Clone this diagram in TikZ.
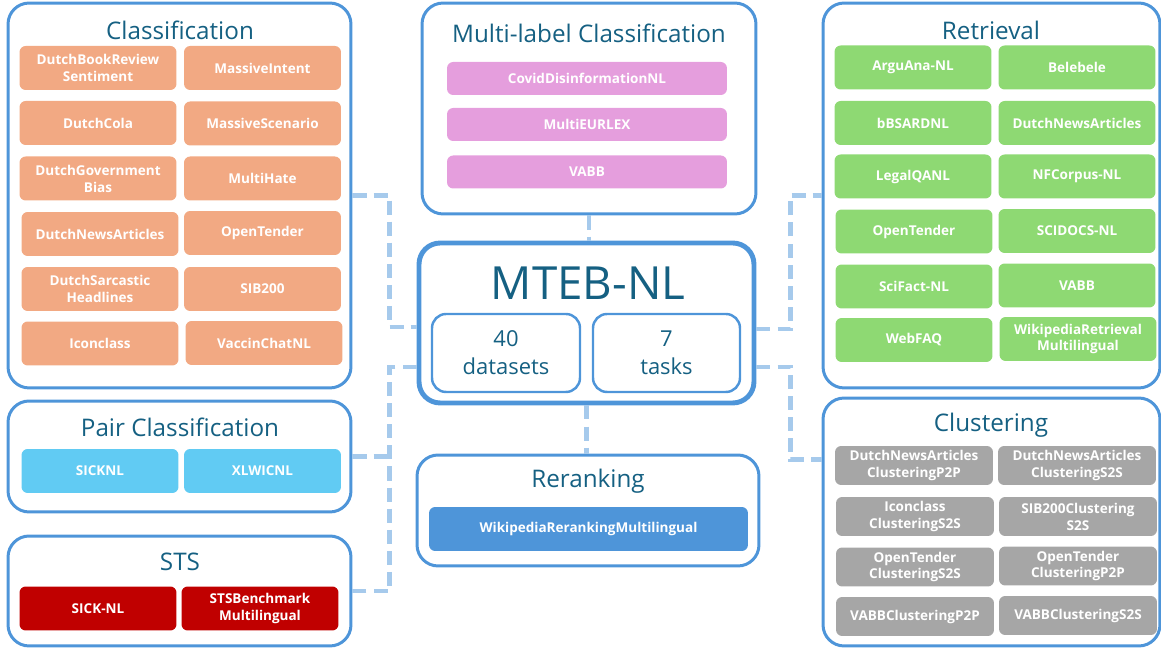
\documentclass[tikz,border=0pt]{standalone}
\usepackage{fontspec}
\setmainfont{Open Sans}
\usetikzlibrary{calc}

\definecolor{grpblue}{HTML}{4E95D9}
\definecolor{linkblue}{HTML}{A6CAEC}
\definecolor{titleblue}{HTML}{156082}
\definecolor{clsorange}{HTML}{F2A983}
\definecolor{retgreen}{HTML}{8ED973}
\definecolor{mlpink}{HTML}{E59EDD}
\definecolor{paircyan}{HTML}{61CBF3}
\definecolor{stsred}{HTML}{C00000}
\definecolor{clugray}{HTML}{A6A6A6}

\begin{document}
\begin{tikzpicture}[x=0.02cm, y=-0.02cm,
    group/.style={draw=grpblue, line width=1.7pt, rounded corners=12pt, inner sep=0pt},
    title/.style={text=titleblue, font=\fontsize{13.8}{16}\selectfont},
    dset/.style={rounded corners=3.5pt, text=white, font=\bfseries\fontsize{7.7}{9.6}\selectfont,
        align=center, inner sep=0pt, minimum width=3.14cm, minimum height=0.88cm},
    link/.style={draw=linkblue, line width=2.8pt, dash pattern=on 8pt off 4pt}]
    \useasboundingbox (0,0) rectangle (1161,648);

    % draw the groups
    \node[group, minimum width=6.86cm, minimum height=7.70cm] (cls) at (179.5,195.5) {};
    \node[group, minimum width=6.86cm, minimum height=2.22cm] (pair) at (179.5,456.5) {};
    \node[group, minimum width=6.86cm, minimum height=2.20cm] (sts) at (179.5,591) {};
    \node[group, minimum width=6.68cm, minimum height=4.22cm] (multi) at (589,108.5) {};
    \node[group, line width=2.8pt, minimum width=6.70cm, minimum height=3.20cm] (mteb) at (586.5,323) {};
    \node[group, minimum width=6.84cm, minimum height=2.22cm] (rerank) at (588,510.5) {};
    \node[group, minimum width=6.74cm, minimum height=7.70cm] (retr) at (991.5,195.5) {};
    \node[group, minimum width=6.74cm, minimum height=4.96cm] (clus) at (991.5,522) {};

    % the titles
    \node[title] (clstitle) at (180,30) {Classification};
    \node[title] (pairtitle) at (180,427) {Pair Classification};
    \node[title] (ststitle) at (180,562) {STS};
    \node[title] (multititle) at (589,33) {Multi-label Classification};
    \node[title] (reranktitle) at (588,481) {Reranking};
    \node[title] (retrtitle) at (991,30) {Retrieval};
    \node[title] (clustitle) at (991,425) {Clustering};

    % the centre box with its numbers
    \node[title, font=\fontsize{26}{30}\selectfont] (mtebtitle) at (588,283) {MTEB-NL};
    \node[group, line width=1.4pt, rounded corners=8pt, minimum width=2.96cm, minimum height=1.56cm,
        align=center, text=titleblue, font=\fontsize{12.5}{16}\selectfont] (nsets) at (506,353) {40\\datasets};
    \node[group, line width=1.4pt, rounded corners=8pt, minimum width=2.94cm, minimum height=1.56cm,
        align=center, text=titleblue, font=\fontsize{12.5}{16}\selectfont] (ntasks) at (666.5,353) {7\\tasks};

    % the datasets in the groups
    \node[dset, fill=clsorange] (c1) at (98,68) {DutchBookReview\\Sentiment};
    \node[dset, fill=clsorange] (c2) at (262.5,68) {MassiveIntent};
    \node[dset, fill=clsorange] (c3) at (98,123) {DutchCola};
    \node[dset, fill=clsorange] (c4) at (262.5,123.5) {MassiveScenario};
    \node[dset, fill=clsorange] (c5) at (98,178.5) {DutchGovernment\\Bias};
    \node[dset, fill=clsorange] (c6) at (262.5,178.5) {MultiHate};
    \node[dset, fill=clsorange] (c7) at (100,234) {DutchNewsArticles};
    \node[dset, fill=clsorange] (c8) at (262.5,233) {OpenTender};
    \node[dset, fill=clsorange] (c9) at (100,289) {DutchSarcastic\\Headlines};
    \node[dset, fill=clsorange] (c10) at (262.5,289) {SIB200};
    \node[dset, fill=clsorange] (c11) at (100,343.5) {Iconclass};
    \node[dset, fill=clsorange] (c12) at (264,343) {VaccinChatNL};

    \node[dset, fill=paircyan] (p1) at (100,471) {SICKNL};
    \node[dset, fill=paircyan] (p2) at (262.5,471) {XLWICNL};

    \node[dset, fill=stsred] (s1) at (98,608.5) {SICK-NL};
    \node[dset, fill=stsred] (s2) at (260,608.5) {STSBenchmark\\Multilingual};

    \node[dset, fill=mlpink, minimum width=5.6cm, minimum height=0.66cm] (m1) at (587,78.5) {CovidDisinformationNL};
    \node[dset, fill=mlpink, minimum width=5.6cm, minimum height=0.66cm] (m2) at (587,124.5) {MultiEURLEX};
    \node[dset, fill=mlpink, minimum width=5.6cm, minimum height=0.66cm] (m3) at (587,172) {VABB};

    \node[dset, fill=grpblue, minimum width=6.38cm] (rr1) at (588.5,529) {WikipediaRerankingMultilingual};

    \node[dset, fill=retgreen] (r1) at (913,67.5) {ArguAna-NL};
    \node[dset, fill=retgreen] (r2) at (1077,67.5) {Belebele};
    \node[dset, fill=retgreen] (r3) at (913,123) {bBSARDNL};
    \node[dset, fill=retgreen] (r4) at (1077,123) {DutchNewsArticles};
    \node[dset, fill=retgreen] (r5) at (913,176.5) {LegalQANL};
    \node[dset, fill=retgreen] (r6) at (1077,176.5) {NFCorpus-NL};
    \node[dset, fill=retgreen] (r7) at (914,231.5) {OpenTender};
    \node[dset, fill=retgreen] (r8) at (1077,231) {SCIDOCS-NL};
    \node[dset, fill=retgreen] (r9) at (914,286.5) {SciFact-NL};
    \node[dset, fill=retgreen] (r10) at (1077,285.5) {VABB};
    \node[dset, fill=retgreen] (r11) at (914,340) {WebFAQ};
    \node[dset, fill=retgreen] (r12) at (1078,339) {WikipediaRetrieval\\Multilingual};

    \node[dset, fill=clugray, minimum width=3.16cm, minimum height=0.78cm] (k1) at (914,465.5) {DutchNewsArticles\\ClusteringP2P};
    \node[dset, fill=clugray, minimum width=3.16cm, minimum height=0.78cm] (k2) at (1077,465.5) {DutchNewsArticles\\ClusteringS2S};
    \node[dset, fill=clugray, minimum width=3.16cm, minimum height=0.78cm] (k3) at (915,516.5) {Iconclass\\ClusteringS2S};
    \node[dset, fill=clugray, minimum width=3.16cm, minimum height=0.78cm] (k4) at (1078,516.5) {SIB200Clustering\\S2S};
    \node[dset, fill=clugray, minimum width=3.16cm, minimum height=0.78cm] (k5) at (915,567) {OpenTender\\ClusteringS2S};
    \node[dset, fill=clugray, minimum width=3.16cm, minimum height=0.78cm] (k6) at (1078,566) {OpenTender\\ClusteringP2P};
    \node[dset, fill=clugray, minimum width=3.16cm, minimum height=0.78cm] (k7) at (915,616.5) {VABBClusteringP2P};
    \node[dset, fill=clugray, minimum width=3.16cm, minimum height=0.78cm] (k8) at (1078,615.5) {VABBClusteringS2S};

    % draw the dashed links to the centre box
    \draw[link] (cls.east) -| ($(mteb.west)+(-27,4)$) -- ($(mteb.west)+(0,4)$);
    \draw[link] ($(mteb.west)+(0,44)$) -- ++(-27,0) |- (sts.east);
    \draw[link] (pair.east) -- ++(41,0);
    \draw[link] (multi.south) -- (multi.south |- mteb.north);
    \draw[link] (mteb.south) -- (mteb.south |- rerank.north);
    \draw[link] ($(mteb.east)+(0,6)$) -- ++(34,0) |- (retr.west);
    \draw[link] ($(mteb.east)+(0,44)$) -- ++(34,0) |- ($(clus.north west)+(0,63)$);
\end{tikzpicture}
\end{document}
